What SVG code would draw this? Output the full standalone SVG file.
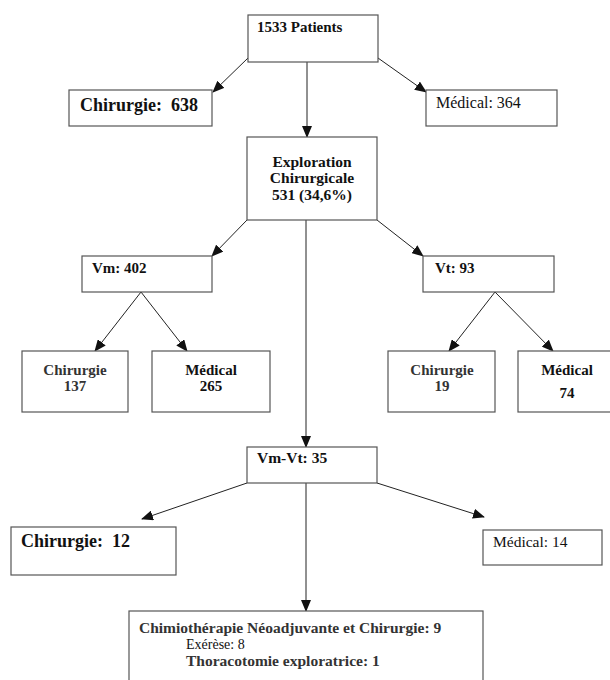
<svg xmlns="http://www.w3.org/2000/svg" width="610" height="680" viewBox="0 0 610 680">
<style>
.box{fill:#fff;stroke:#555;stroke-width:1.2}
text{font-family:'Liberation Serif','Times New Roman',serif;fill:#111}
.b{font-weight:bold}
.g{fill:#333}
.c{text-anchor:middle}
.ln{stroke:#222;stroke-width:1;fill:none;marker-end:url(#ah)}
</style>
<defs>
<marker id="ah" markerUnits="userSpaceOnUse" markerWidth="12" markerHeight="10" refX="11" refY="5" orient="auto">
<path d="M0,0 L12,5 L0,10 z" fill="#111"/>
</marker>
</defs>
<rect width="610" height="680" fill="#fff"/>
<g id="connectors">
<line class="ln" x1="248" y1="58" x2="213" y2="92"/>
<line class="ln" x1="378" y1="58" x2="426" y2="92"/>
<line class="ln" x1="307" y1="62" x2="307" y2="137"/>
<line class="ln" x1="247" y1="220" x2="212" y2="256"/>
<line class="ln" x1="377" y1="220" x2="423" y2="256"/>
<line class="ln" x1="306" y1="220" x2="306" y2="447"/>
<line class="ln" x1="141" y1="292" x2="95" y2="351"/>
<line class="ln" x1="141" y1="292" x2="187" y2="351"/>
<line class="ln" x1="495" y1="292" x2="449" y2="351"/>
<line class="ln" x1="495" y1="292" x2="553" y2="351"/>
<line class="ln" x1="247" y1="483" x2="142" y2="519"/>
<line class="ln" x1="377" y1="483" x2="484" y2="517"/>
<line class="ln" x1="306" y1="483" x2="306" y2="611"/>
</g>
<g id="patients">
<rect class="box" x="248" y="15" width="130" height="47"/>
<text class="b" x="257" y="32" font-size="15">1533 Patients</text>
</g>
<g id="chirurgie638">
<rect class="box" x="69" y="90" width="143" height="36"/>
<text class="b" x="80" y="111" font-size="18" xml:space="preserve">Chirurgie:  638</text>
</g>
<g id="medical364">
<rect class="box" x="426" y="90" width="131" height="36"/>
<text x="436" y="108" font-size="16">Médical: 364</text>
</g>
<g id="exploration">
<rect class="box" x="247" y="137" width="130" height="83"/>
<text class="b c" x="312" y="167" font-size="15.5">Exploration</text>
<text class="b c" x="312" y="183" font-size="15.5">Chirurgicale</text>
<text class="b c" x="312" y="200" font-size="15.5">531 (34,6%)</text>
</g>
<g id="vm">
<rect class="box" x="82" y="256" width="130" height="36"/>
<text class="b" x="92" y="273" font-size="15">Vm: 402</text>
</g>
<g id="vt">
<rect class="box" x="423" y="256" width="131" height="36"/>
<text class="b" x="435" y="273" font-size="15">Vt: 93</text>
</g>
<g id="vm-chirurgie">
<rect class="box" x="22" y="351" width="106" height="61"/>
<text class="b g c" x="75" y="375" font-size="15">Chirurgie</text>
<text class="b g c" x="75" y="391" font-size="15">137</text>
</g>
<g id="vm-medical">
<rect class="box" x="152" y="351" width="118" height="61"/>
<text class="b c" x="211" y="375" font-size="15">Médical</text>
<text class="b c" x="211" y="391" font-size="15">265</text>
</g>
<g id="vt-chirurgie">
<rect class="box" x="388" y="351" width="107" height="61"/>
<text class="b g c" x="442" y="375" font-size="15">Chirurgie</text>
<text class="b g c" x="442" y="391" font-size="15">19</text>
</g>
<g id="vt-medical">
<rect class="box" x="518" y="351" width="100" height="61"/>
<text class="b c" x="567" y="375" font-size="15">Médical</text>
<text class="b c" x="567" y="398" font-size="15">74</text>
</g>
<g id="vmvt">
<rect class="box" x="247" y="447" width="130" height="36"/>
<text class="b" x="257" y="463" font-size="15.5">Vm-Vt: 35</text>
</g>
<g id="chirurgie12">
<rect class="box" x="11" y="527" width="165" height="48"/>
<text class="b" x="21" y="547" font-size="18" xml:space="preserve">Chirurgie:  12</text>
</g>
<g id="medical14">
<rect class="box" x="483" y="530" width="119" height="35"/>
<text x="493" y="547" font-size="15.5">Médical: 14</text>
</g>
<g id="chimio">
<rect class="box" x="129" y="611" width="354" height="80"/>
<text class="b g" x="139" y="633" font-size="15.5">Chimiothérapie Néoadjuvante et Chirurgie: 9</text>
<text x="186" y="649" font-size="14">Exérèse: 8</text>
<text class="b g" x="186" y="666" font-size="15.5">Thoracotomie exploratrice: 1</text>
</g>
</svg>
